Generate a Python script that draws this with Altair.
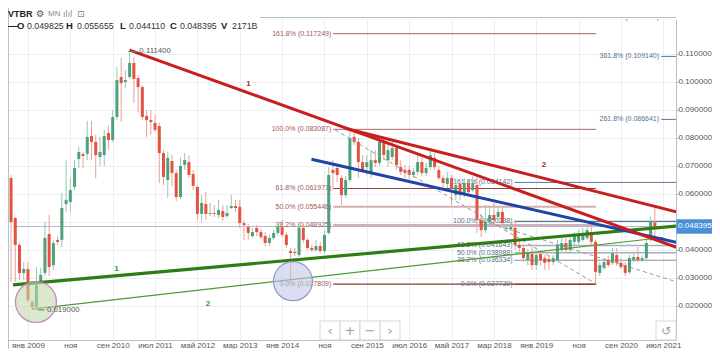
import altair as alt
import pandas as pd

FONT = "Liberation Sans, Arial, sans-serif"

# ---------------- data (monthly candles, Aug 2008 .. May 2021) ----------------
first_month = "2008-08-01"
open_ = [0.0800, 0.0657, 0.0514, 0.0418, 0.0318, 0.0332, 0.0214, 0.0196, 0.0286, 0.0318,
         0.0457, 0.0346, 0.0436, 0.0436, 0.0564, 0.0571, 0.0625, 0.0725, 0.0743, 0.0743,
         0.0807, 0.0786, 0.0732, 0.0739, 0.0818, 0.0793, 0.0875, 0.1018, 0.1000, 0.1018,
         0.1068, 0.1014, 0.0982, 0.0879, 0.0864, 0.0854, 0.0843, 0.0746, 0.0650, 0.0718,
         0.0675, 0.0589, 0.0704, 0.0714, 0.0671, 0.0625, 0.0529, 0.0564, 0.0529, 0.0532,
         0.0525, 0.0539, 0.0521, 0.0550, 0.0557, 0.0554, 0.0496, 0.0482, 0.0450, 0.0479,
         0.0464, 0.0450, 0.0425, 0.0443, 0.0461, 0.0482, 0.0454, 0.0396, 0.0393, 0.0382,
         0.0479, 0.0436, 0.0407, 0.0400, 0.0414, 0.0396, 0.0461, 0.0686, 0.0693, 0.0657,
         0.0596, 0.0650, 0.0804, 0.0786, 0.0714, 0.0696, 0.0675, 0.0721, 0.0711, 0.0786,
         0.0721, 0.0732, 0.0764, 0.0696, 0.0686, 0.0686, 0.0668, 0.0679, 0.0714, 0.0675,
         0.0696, 0.0729, 0.0686, 0.0657, 0.0636, 0.0657, 0.0596, 0.0636, 0.0596, 0.0639,
         0.0614, 0.0632, 0.0507, 0.0471, 0.0500, 0.0525, 0.0518, 0.0536, 0.0475, 0.0475,
         0.0479, 0.0418, 0.0407, 0.0364, 0.0386, 0.0346, 0.0386, 0.0371, 0.0368, 0.0357,
         0.0364, 0.0400, 0.0425, 0.0400, 0.0429, 0.0429, 0.0436, 0.0443, 0.0464, 0.0429,
         0.0318, 0.0336, 0.0364, 0.0354, 0.0382, 0.0354, 0.0346, 0.0321, 0.0364, 0.0375,
         0.0364, 0.0371, 0.0439, 0.049825]
high = [0.0818, 0.0668, 0.0518, 0.0425, 0.0357, 0.0357, 0.0221, 0.0339, 0.0336, 0.0500,
        0.0525, 0.0436, 0.0450, 0.0604, 0.0721, 0.0657, 0.0721, 0.0768, 0.0750, 0.0861,
        0.0861, 0.0811, 0.0804, 0.0829, 0.0846, 0.0900, 0.1054, 0.1086, 0.1043, 0.1114,
        0.1089, 0.1025, 0.0989, 0.0900, 0.0900, 0.0882, 0.0854, 0.0757, 0.0750, 0.0739,
        0.0686, 0.0732, 0.0746, 0.0739, 0.0686, 0.0632, 0.0596, 0.0607, 0.0568, 0.0561,
        0.0579, 0.0561, 0.0561, 0.0596, 0.0579, 0.0579, 0.0507, 0.0493, 0.0479, 0.0489,
        0.0475, 0.0464, 0.0454, 0.0471, 0.0493, 0.0507, 0.0464, 0.0407, 0.0407, 0.0489,
        0.0493, 0.0443, 0.0418, 0.0436, 0.0429, 0.0471, 0.0696, 0.0721, 0.0704, 0.0668,
        0.0664, 0.0831, 0.0829, 0.0800, 0.0739, 0.0739, 0.0757, 0.0757, 0.0800, 0.0800,
        0.0782, 0.0793, 0.0775, 0.0721, 0.0704, 0.0700, 0.0693, 0.0739, 0.0729, 0.0711,
        0.0757, 0.0746, 0.0700, 0.0668, 0.0679, 0.0668, 0.0650, 0.0643, 0.0657, 0.0650,
        0.0664, 0.0664, 0.0529, 0.0561, 0.0557, 0.0568, 0.0557, 0.0550, 0.0493, 0.0500,
        0.0507, 0.0436, 0.0418, 0.0404, 0.0411, 0.0393, 0.0393, 0.0382, 0.0382, 0.0382,
        0.0436, 0.0443, 0.0443, 0.0450, 0.0464, 0.0471, 0.0479, 0.0486, 0.0486, 0.0436,
        0.0357, 0.0371, 0.0379, 0.0407, 0.0407, 0.0371, 0.0357, 0.0382, 0.0393, 0.0411,
        0.0382, 0.0436, 0.0520, 0.055655]
low = [0.0604, 0.0285, 0.0286, 0.0293, 0.0293, 0.0214, 0.0190, 0.0190, 0.0282, 0.0307,
       0.0307, 0.0329, 0.0418, 0.0411, 0.0536, 0.0536, 0.0614, 0.0693, 0.0693, 0.0721,
       0.0721, 0.0657, 0.0700, 0.0700, 0.0757, 0.0786, 0.0864, 0.0857, 0.0979, 0.1011,
       0.0925, 0.0893, 0.0864, 0.0804, 0.0811, 0.0821, 0.0639, 0.0632, 0.0586, 0.0629,
       0.0575, 0.0582, 0.0686, 0.0657, 0.0614, 0.0507, 0.0500, 0.0507, 0.0521, 0.0518,
       0.0514, 0.0504, 0.0514, 0.0546, 0.0536, 0.0479, 0.0436, 0.0436, 0.0443, 0.0450,
       0.0439, 0.0414, 0.0414, 0.0436, 0.0450, 0.0446, 0.0407, 0.0278, 0.0379, 0.0375,
       0.0425, 0.0400, 0.0393, 0.0393, 0.0389, 0.0389, 0.0454, 0.0614, 0.0643, 0.0561,
       0.0586, 0.0643, 0.0775, 0.0657, 0.0679, 0.0668, 0.0657, 0.0696, 0.0700, 0.0721,
       0.0696, 0.0721, 0.0686, 0.0668, 0.0657, 0.0650, 0.0657, 0.0668, 0.0664, 0.0664,
       0.0686, 0.0686, 0.0650, 0.0621, 0.0621, 0.0561, 0.0579, 0.0579, 0.0589, 0.0593,
       0.0607, 0.0461, 0.0446, 0.0461, 0.0489, 0.0500, 0.0507, 0.0489, 0.0464, 0.0468,
       0.0400, 0.0393, 0.0357, 0.0346, 0.0329, 0.0329, 0.0343, 0.0329, 0.0329, 0.0346,
       0.0357, 0.0393, 0.0389, 0.0393, 0.0418, 0.0421, 0.0429, 0.0436, 0.0418, 0.0277,
       0.0307, 0.0329, 0.0339, 0.0346, 0.0343, 0.0332, 0.0307, 0.0314, 0.0357, 0.0357,
       0.0357, 0.0364, 0.0429, 0.044110]
close = [0.0675, 0.0500, 0.0418, 0.0318, 0.0332, 0.0221, 0.0196, 0.0275, 0.0311, 0.0443,
         0.0339, 0.0425, 0.0429, 0.0550, 0.0579, 0.0614, 0.0693, 0.0750, 0.0736, 0.0804,
         0.0786, 0.0739, 0.0750, 0.0807, 0.0793, 0.0875, 0.1007, 0.0996, 0.1007, 0.1068,
         0.1011, 0.0982, 0.0875, 0.0864, 0.0857, 0.0829, 0.0746, 0.0661, 0.0729, 0.0675,
         0.0589, 0.0700, 0.0721, 0.0668, 0.0629, 0.0529, 0.0568, 0.0529, 0.0532, 0.0529,
         0.0543, 0.0518, 0.0532, 0.0557, 0.0550, 0.0496, 0.0489, 0.0461, 0.0464, 0.0464,
         0.0446, 0.0425, 0.0443, 0.0461, 0.0482, 0.0454, 0.0418, 0.0389, 0.0389, 0.0479,
         0.0436, 0.0407, 0.0400, 0.0414, 0.0396, 0.0454, 0.0668, 0.0675, 0.0668, 0.0596,
         0.0650, 0.0800, 0.0786, 0.0714, 0.0686, 0.0714, 0.0721, 0.0711, 0.0786, 0.0739,
         0.0757, 0.0764, 0.0704, 0.0679, 0.0675, 0.0668, 0.0679, 0.0714, 0.0675, 0.0693,
         0.0739, 0.0696, 0.0657, 0.0639, 0.0657, 0.0621, 0.0632, 0.0596, 0.0639, 0.0607,
         0.0639, 0.0507, 0.0471, 0.0500, 0.0525, 0.0507, 0.0536, 0.0496, 0.0479, 0.0482,
         0.0418, 0.0407, 0.0371, 0.0389, 0.0346, 0.0382, 0.0364, 0.0354, 0.0357, 0.0371,
         0.0418, 0.0425, 0.0400, 0.0436, 0.0450, 0.0454, 0.0461, 0.0471, 0.0429, 0.0321,
         0.0346, 0.0357, 0.0346, 0.0389, 0.0354, 0.0339, 0.0318, 0.0371, 0.0375, 0.0364,
         0.0371, 0.0425, 0.0500, 0.048395]
volume_text = "2171B"

tick_months = [0, 10, 20, 30, 40, 50, 60, 70, 80, 90, 100, 110, 120, 130, 140, 150]
tick_labels = ["янв 2009", "ноя", "сен 2010", "июл 2011", "май 2012", "мар 2013", "янв 2014", "ноя",
               "сен 2015", "июл 2016", "май 2017", "мар 2018", "янв 2019", "ноя", "сен 2020", "июл 2021"]
price_ticks = [0.02, 0.03, 0.04, 0.05, 0.06, 0.07, 0.08, 0.09, 0.10, 0.11]

# Fibonacci set A (2014 low -> 2015 high)
fibA_levels = ["161.8%", "100.0%", "61.8%", "50.0%", "38.2%", "0.0%"]
fibA_prices = [0.117249, 0.083087, 0.061971, 0.055448, 0.048925, 0.027809]
# Fibonacci set B (2020 low -> high)
fibB_levels = ["161.8%", "100.0%", "61.8%", "50.0%", "38.2%", "0.0%"]
fibB_prices = [0.064142, 0.050238, 0.041643, 0.038988, 0.036334, 0.027739]
fibC_levels = ["423.6%", "361.8%", "261.8%"]
fibC_prices = [0.123045, 0.109140, 0.086641]

# trend lines: (month index, price) start/end
trend_t0 = [24.0, 74.84, 66.93, -3.535, 0.88]
trend_p0 = [0.1114, 0.0835, 0.0724, 0.02754, 0.0189]
trend_t1 = [153.21, 153.21, 153.21, 153.21, 149.95]
trend_p1 = [0.0409, 0.0536, 0.0427, 0.04857, 0.04446]
dash_t0 = [72.51, 105.77]
dash_p0 = [0.0829, 0.0511]
dash_t1 = [134.14, 153.21]
dash_p1 = [0.0279, 0.02857]

circle_t = [1.88, 62.56]
circle_p = [0.02143, 0.02886]

X_DOMAIN = [-3.535, 151.81]
Y_DOMAIN = [0.007857, 0.1225]
W, H = 668, 321

# ---------------- build ----------------
dates = pd.date_range(first_month, periods=len(close), freq="MS")
months = [(d.year - 2009) * 12 + d.month - 1 for d in dates]
candles = pd.DataFrame({"t": months, "o": open_, "h": high, "l": low, "c": close})
candles["body"] = ["#50a07b" if c >= o else "#e3533f" for o, c in zip(open_, close)]
candles["wick"] = ["#98c7b0" if c >= o else "#e9a196" for o, c in zip(open_, close)]

xs = alt.Scale(domain=X_DOMAIN, nice=False, zero=False)
ys = alt.Scale(domain=Y_DOMAIN, nice=False, zero=False)
label_expr = "[" + ",".join("'" + s + "'" for s in tick_labels) + "][round(datum.value/10)]"
x_axis = alt.Axis(values=tick_months, labelExpr=label_expr, grid=True, gridColor="#eceff2",
                  ticks=False, domain=True, domainColor="#b6c1cc", labelColor="#555555",
                  labelFontSize=8, labelFont=FONT, labelPadding=1, title=None,
                  labelOverlap=False, labelFlush=False)
y_axis = alt.Axis(orient="right", values=price_ticks,
                  labelExpr="abs(datum.value - 0.05) < 1e-9 ? '' : format(datum.value, '.6f')",
                  grid=True, gridColor="#eceff2",
                  tickSize=2, tickColor="#9aa4ad", domain=True, domainColor="#b6c1cc",
                  labelColor="#555555", labelFontSize=8.1, labelFont=FONT, labelPadding=0,
                  title=None, labelOverlap=False)


def X(f):
    return alt.X(f, scale=xs, axis=x_axis)


def Y(f):
    return alt.Y(f, scale=ys, axis=y_axis)


def segs(df, **mark):
    return alt.Chart(df).mark_rule(clip=True, **mark).encode(
        x=X("t0:Q"), x2="t1:Q", y=Y("p0:Q"), y2="p1:Q")


layers = []

# last price line
lp = pd.DataFrame({"t0": [X_DOMAIN[0]], "t1": [X_DOMAIN[1]], "p0": [close[-1]], "p1": [close[-1]]})
layers.append(segs(lp, color="#a9bccd", strokeWidth=1))

# fib lines
fa = pd.DataFrame({"t0": 72.05, "t1": 134.14, "p0": fibA_prices, "p1": fibA_prices,
                   "col": ["#b35d5d", "#a86a6a", "#8e4a42", "#d6b0b0", "#d6b0b0", "#8e3a35"],
                   "w": [1, 1, 1.2, 2.2, 2.2, 1.2]})
fb = pd.DataFrame({"t0": 114.84, "t1": [153.21, 153.21, 153.21, 153.21, 153.21, 134.14],
                   "p0": fibB_prices, "p1": fibB_prices,
                   "col": ["#5d7893", "#5d7893", "#9fb2c4", "#9fb2c4", "#7d94ab", "#8e3a35"],
                   "w": [1, 1.2, 1.5, 1.5, 1.2, 1.2]})
fc = pd.DataFrame({"t0": 149.5, "t1": 153.21, "p0": fibC_prices, "p1": fibC_prices,
                   "col": "#5d7893", "w": 1})
for d in (fa, fb, fc):
    layers.append(alt.Chart(d).mark_rule(clip=True).encode(
        x=X("t0:Q"), x2="t1:Q", y=Y("p0:Q"), y2="p1:Q",
        color=alt.Color("col:N", scale=None), strokeWidth=alt.StrokeWidth("w:Q", scale=None)))

fa_lab = pd.DataFrame({"t": 71.6, "p": fibA_prices,
                       "s": [f"{l} ({p:.6f})" for l, p in zip(fibA_levels, fibA_prices)]})
fb_lab = pd.DataFrame({"t": 114.4, "p": fibB_prices,
                       "s": [f"{l} ({p:.6f})" for l, p in zip(fibB_levels, fibB_prices)]})
fc_lab = pd.DataFrame({"t": 149.0, "p": fibC_prices,
                       "s": [f"{l} ({p:.6f})" for l, p in zip(fibC_levels, fibC_prices)]})
for d, col in ((fa_lab, "#a35656"), (fb_lab, "#55708c"), (fc_lab, "#55708c")):
    layers.append(alt.Chart(d).mark_text(align="right", baseline="middle", fontSize=7, font=FONT,
                                         color=col, clip=(d is fc_lab)).encode(
        x=X("t:Q"), y=Y("p:Q"), text="s:N"))

# candles
layers.append(alt.Chart(candles).mark_rule(strokeWidth=1, clip=True).encode(
    x=X("t:Q"), y=Y("l:Q"), y2="h:Q", color=alt.Color("wick:N", scale=None)))
layers.append(alt.Chart(candles).mark_bar(size=3, clip=True).encode(
    x=X("t:Q"), y=Y("o:Q"), y2="c:Q", color=alt.Color("body:N", scale=None)))

# dashed lines
dd = pd.DataFrame({"t0": dash_t0, "p0": dash_p0, "t1": dash_t1, "p1": dash_p1})
layers.append(segs(dd, color="#9a9a9a", strokeWidth=1, strokeDash=[4, 3]))

# trend lines
styles = [("#c81e1e", 3), ("#c81e1e", 3), ("#1e44a8", 3), ("#2e7d12", 3.2), ("#4f9a35", 1.2)]
order = [4, 3, 2, 0, 1]
for i in order:
    d = pd.DataFrame({"t0": [trend_t0[i]], "p0": [trend_p0[i]], "t1": [trend_t1[i]], "p1": [trend_p1[i]]})
    layers.append(segs(d, color=styles[i][0], strokeWidth=styles[i][1]))

# circles
c1 = pd.DataFrame({"t": [circle_t[0]], "p": [circle_p[0]]})
c2 = pd.DataFrame({"t": [circle_t[1]], "p": [circle_p[1]]})
layers.append(alt.Chart(c1).mark_point(shape="circle", size=1680, fill="#c3d9ab", fillOpacity=0.6,
                                       stroke="#c488bf", strokeWidth=1.2, opacity=1).encode(
    x=X("t:Q"), y=Y("p:Q")))
layers.append(alt.Chart(c2).mark_point(shape="circle", size=1520, fill="#c2c8e6", fillOpacity=0.6,
                                       stroke="#8d97c9", strokeWidth=1.2, opacity=1).encode(
    x=X("t:Q"), y=Y("p:Q")))

# price annotations
marks_d = pd.DataFrame({"t0": [23.67, 2.28], "t1": [25.77, 3.9], "p0": [0.1109, 0.0186], "p1": [0.1109, 0.0186]})
layers.append(segs(marks_d, color="#777777", strokeWidth=1))
ann = pd.DataFrame({"t": [26.3, 4.5], "p": [0.1109, 0.0186], "s": [f"{high[29]:.6f}", "0.019000"]})
layers.append(alt.Chart(ann).mark_text(align="left", baseline="middle", fontSize=7.8, font=FONT,
                                       color="#555555").encode(x=X("t:Q"), y=Y("p:Q"), text="s:N"))

# line numbers
nums_red = pd.DataFrame({"t": [52.05, 121.81], "p": [0.09929, 0.07036], "s": ["1", "2"]})
nums_green = pd.DataFrame({"t": [20.88, 42.51], "p": [0.03321, 0.02071], "s": ["1", "2"]})
layers.append(alt.Chart(nums_red).mark_text(fontSize=8, fontWeight="bold", color="#b51e1e",
                                            font=FONT).encode(x=X("t:Q"), y=Y("p:Q"), text="s:N"))
layers.append(alt.Chart(nums_green).mark_text(fontSize=8, fontWeight="bold", color="#2f9a2f",
                                              font=FONT).encode(x=X("t:Q"), y=Y("p:Q"), text="s:N"))

# price tag on the axis
tag = pd.DataFrame({"p0": [close[-1] - 0.0026], "p1": [close[-1] + 0.0026], "p": [close[-1]],
                    "s": [f"{close[-1]:.6f}"]})
layers.append(alt.Chart(tag).mark_rect(color="#4a8fd8").encode(
    x=alt.value(W + 0.5), x2=alt.value(W + 36), y=Y("p0:Q"), y2="p1:Q"))
layers.append(alt.Chart(tag).mark_text(align="left", baseline="middle", fontSize=8.1, font=FONT,
                                       color="white").encode(x=alt.value(W + 2), y=Y("p:Q"), text="s:N"))

# ---------------- chrome (pixel positioned UI) ----------------
dummy = pd.DataFrame({"d": [0]})


def ptext(x, y, s, **kw):
    base = dict(align="left", baseline="middle", font=FONT, fontSize=10, color="#333333")
    base.update(kw)
    return alt.Chart(dummy).mark_text(x=x, y=y, text=s, **base)


def prule(x, x2, y, y2, color="#b6c1cc", w=1):
    return alt.Chart(dummy).mark_rule(color=color, strokeWidth=w).encode(
        x=alt.value(x), x2=alt.value(x2), y=alt.value(y), y2=alt.value(y2))


def pbox(x, x2, y, y2):
    return alt.Chart(dummy).mark_rect(fill="white", stroke="#d3d9df", strokeWidth=1).encode(
        x=alt.value(x), x2=alt.value(x2), y=alt.value(y), y2=alt.value(y2))


layers.append(prule(252, W, -1.5, -1.5))
layers.append(prule(0.5, 0.5, -11, 330))

# navigation buttons
for i, sym in enumerate(["‹", "+", "−", "›"]):
    x0 = 312 + 20 * i
    layers.append(pbox(x0, x0 + 20, 302, 321))
    layers.append(ptext(x0 + 10, 311.5, sym, align="center", fontSize=13, color="#9a9a9a",
                        font="DejaVu Sans"))
layers.append(pbox(W - 20, W, 302, 321))
layers.append(ptext(W - 10, 311.5, "↺", align="center", fontSize=12, color="#a0a0a0", font="DejaVu Sans"))

# header
layers.append(ptext(0, -5.5, "VTBR", fontWeight="bold", fontSize=9, color="#222222"))
layers.append(ptext(28, -5.5, "⚙", fontSize=9.5, color="#555555", font="DejaVu Sans"))
layers.append(ptext(40, -5.5, "MN", fontSize=8, color="#8a8a8a"))
layers.append(ptext(55, -5.5, "ılıl", fontSize=8.5, color="#8a8a8a", font="DejaVu Sans"))
layers.append(ptext(69, -5.5, "⊡", fontSize=9.5, color="#8a8a8a", font="DejaVu Sans"))

hdr_bold = [(0, "—"), (9, "O"), (58, "H"), (112, "L"), (162, "C"), (213, "V")]
hdr_vals = [(19, f"{open_[-1]:.6f}"), (69, f"{high[-1]:.6f}"), (121, f"{low[-1]:.6f}"),
            (172, f"{close[-1]:.6f}"), (224, volume_text)]
for x, s in hdr_bold:
    layers.append(ptext(x, 7, s, fontWeight="bold", fontSize=9.5, color="#222222"))
for x, s in hdr_vals:
    layers.append(ptext(x, 7, s, fontSize=8.8, color="#333333"))

chart = alt.layer(*layers).properties(
    width=W, height=H,
    autosize=alt.AutoSizeParams(type="none"),
    padding={"left": 0, "top": 11, "right": 36, "bottom": 9},
    background="white",
).configure_view(stroke=None)

chart.save("out.html", embed_options={"renderer": "svg", "actions": False})
